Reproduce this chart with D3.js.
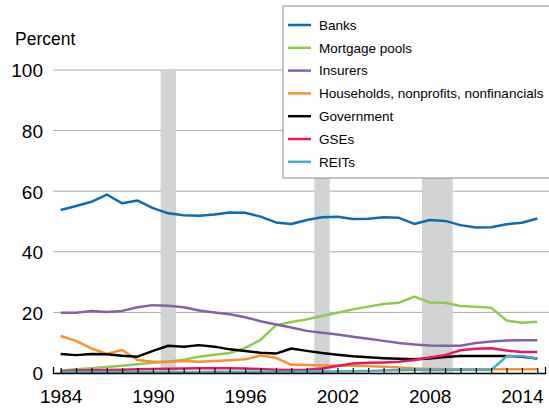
<!DOCTYPE html>
<html>
<head>
<meta charset="utf-8">
<title>Holders of mortgage debt</title>
<script src="https://cdn.jsdelivr.net/npm/d3@7"></script>
<style>
  body { margin: 0; background: #fff; }
  svg { display: block; }
  .tick text { font-family: "Liberation Sans", Arial, sans-serif; }
</style>
</head>
<body>
<svg id="chart" width="549" height="410"></svg>
<script>
// data (percent of total)
var years = d3.range(1984, 2016);
var banks      = [53.8, 55.1, 56.5, 58.9, 56.0, 56.9, 54.4, 52.7, 52.1, 51.9, 52.3, 53.0, 52.9, 51.6, 49.7, 49.2, 50.5, 51.4, 51.6, 50.8, 50.9, 51.4, 51.2, 49.2, 50.5, 50.2, 48.8, 48.0, 48.1, 49.1, 49.6, 51.0];
var mortPools  = [0.8, 1.2, 1.6, 2.0, 2.4, 2.9, 3.4, 3.7, 4.4, 5.4, 6.0, 6.6, 8.3, 10.9, 15.8, 16.8, 17.7, 18.8, 19.9, 21.0, 21.9, 22.8, 23.2, 25.2, 23.3, 23.2, 22.1, 21.9, 21.5, 17.3, 16.6, 16.9];
var insurers   = [19.9, 19.9, 20.5, 20.1, 20.5, 21.7, 22.4, 22.2, 21.7, 20.6, 20.0, 19.4, 18.4, 17.1, 16.0, 15.0, 13.9, 13.3, 12.7, 12.0, 11.3, 10.6, 9.9, 9.4, 9.1, 9.0, 9.0, 9.9, 10.4, 10.7, 10.8, 10.8];
var households = [12.2, 10.6, 8.1, 6.3, 7.6, 4.3, 3.7, 3.7, 4.0, 3.7, 4.0, 4.2, 4.5, 5.8, 5.0, 2.7, 2.6, 2.5, 2.5, 2.4, 2.3, 2.1, 1.8, 1.5, 1.3, 1.2, 1.2, 1.2, 1.2, 1.2, 1.2, 1.2];
var government = [6.3, 5.9, 6.3, 6.2, 5.7, 5.4, 7.3, 9.0, 8.7, 9.2, 8.7, 7.8, 7.3, 6.7, 6.4, 8.1, 7.3, 6.6, 6.0, 5.5, 5.2, 4.9, 4.7, 4.5, 4.8, 5.3, 5.6, 5.6, 5.6, 5.6, 5.4, 4.8];
var gses       = [0.6, 0.8, 0.9, 1.0, 1.1, 1.2, 1.3, 1.4, 1.5, 1.6, 1.6, 1.6, 1.5, 1.3, 1.1, 1.0, 1.1, 1.5, 2.3, 3.1, 3.4, 3.5, 3.7, 4.3, 5.1, 5.9, 7.5, 8.0, 8.2, 7.4, 6.9, 6.9];
var reits      = [0.3, 0.3, 0.3, 0.3, 0.3, 0.3, 0.3, 0.3, 0.3, 0.3, 0.4, 0.4, 0.4, 0.4, 0.4, 0.4, 0.5, 0.5, 0.5, 0.6, 0.7, 0.8, 0.9, 1.0, 1.0, 1.0, 1.0, 1.0, 1.0, 5.5, 5.6, 4.7];

var seriesNames = ["Banks", "Mortgage pools", "Insurers", "Households, nonprofits, nonfinancials", "Government", "GSEs", "REITs"];
var seriesColors = ["#0a6cb5", "#8dcb4c", "#8262a9", "#f7922d", "#000000", "#e8185b", "#46afcb"];
var seriesValues = [banks, mortPools, insurers, households, government, gses, reits];

// recessions, [start, end] in fractional years
var recessions = [[1990.5, 1991.5], [2000.5, 2001.5], [2007.5, 2009.5]];
var yTicks = [0, 20, 40, 60, 80, 100];
var xLabelYears = [1984, 1990, 1996, 2002, 2008, 2014];

var FONT = '"Liberation Sans", Arial, sans-serif';

var svg = d3.select("#chart");

var x = d3.scaleLinear().domain([1983.5, 2015.5]).range([53, 545]);
var y = d3.scaleLinear().domain([0, 100]).range([373, 70]);

// gridlines
svg.append("g").selectAll("line")
  .data(yTicks.filter(function (d) { return d > 0; }))
  .enter().append("line")
  .attr("x1", 53).attr("x2", 549)
  .attr("y1", function (d) { return y(d); })
  .attr("y2", function (d) { return y(d); })
  .attr("stroke", "#a7a9ac")
  .attr("stroke-width", 1);

// recession bars
svg.append("g").selectAll("rect")
  .data(recessions)
  .enter().append("rect")
  .attr("x", function (d) { return x(d[0]); })
  .attr("width", function (d) { return x(d[1]) - x(d[0]); })
  .attr("y", y(100))
  .attr("height", y(0) - y(100))
  .attr("fill", "#d1d3d4");

// y axis labels
var yAxis = svg.append("g")
  .attr("transform", "translate(53,0)")
  .call(d3.axisLeft(y).tickValues(yTicks).tickSize(0).tickPadding(10));
yAxis.select(".domain").remove();
yAxis.selectAll("text").attr("font-size", 19).attr("fill", "#000").attr("dy", "0.36em");

svg.append("text")
  .attr("x", 15).attr("y", 45)
  .attr("font-family", FONT)
  .attr("font-size", 17.5)
  .text("Percent");

// lines
var line = d3.line()
  .x(function (d, i) { return x(years[i]); })
  .y(function (d) { return y(d); });

svg.append("g").selectAll("path")
  .data(seriesValues)
  .enter().append("path")
  .attr("d", line)
  .attr("fill", "none")
  .attr("stroke", function (d, i) { return seriesColors[i]; })
  .attr("stroke-width", 2.5)
  .attr("stroke-linejoin", "round");

// x axis
var xAxis = svg.append("g")
  .attr("transform", "translate(0," + y(0) + ")")
  .call(d3.axisBottom(x)
    .tickValues(years)
    .tickSizeInner(-5)
    .tickSizeOuter(-6)
    .tickPadding(17)
    .tickFormat(function (d) { return xLabelYears.indexOf(d) >= 0 ? d : ""; }));
xAxis.select(".domain").attr("stroke", "#000").attr("stroke-width", 1.3);
xAxis.selectAll(".tick line").attr("stroke", "#000").attr("stroke-width", 1.2);
xAxis.selectAll("text").attr("font-size", 19).attr("fill", "#000");

// legend
var legend = svg.append("g").attr("transform", "translate(283,6)");
legend.append("rect")
  .attr("x", 0).attr("y", 0)
  .attr("width", 270).attr("height", 172)
  .attr("fill", "#fff")
  .attr("stroke", "#8a8c8e")
  .attr("stroke-width", 1);

var item = legend.selectAll(".item")
  .data(seriesNames)
  .enter().append("g")
  .attr("class", "item")
  .attr("transform", function (d, i) { return "translate(0," + (19 + i * 22.8) + ")"; });

item.append("line")
  .attr("x1", 5).attr("x2", 28)
  .attr("stroke", function (d, i) { return seriesColors[i]; })
  .attr("stroke-width", 2.5);

item.append("text")
  .attr("x", 36)
  .attr("dy", "0.35em")
  .attr("font-family", FONT)
  .attr("font-size", 13.5)
  .text(function (d) { return d; });
</script>
</body>
</html>
